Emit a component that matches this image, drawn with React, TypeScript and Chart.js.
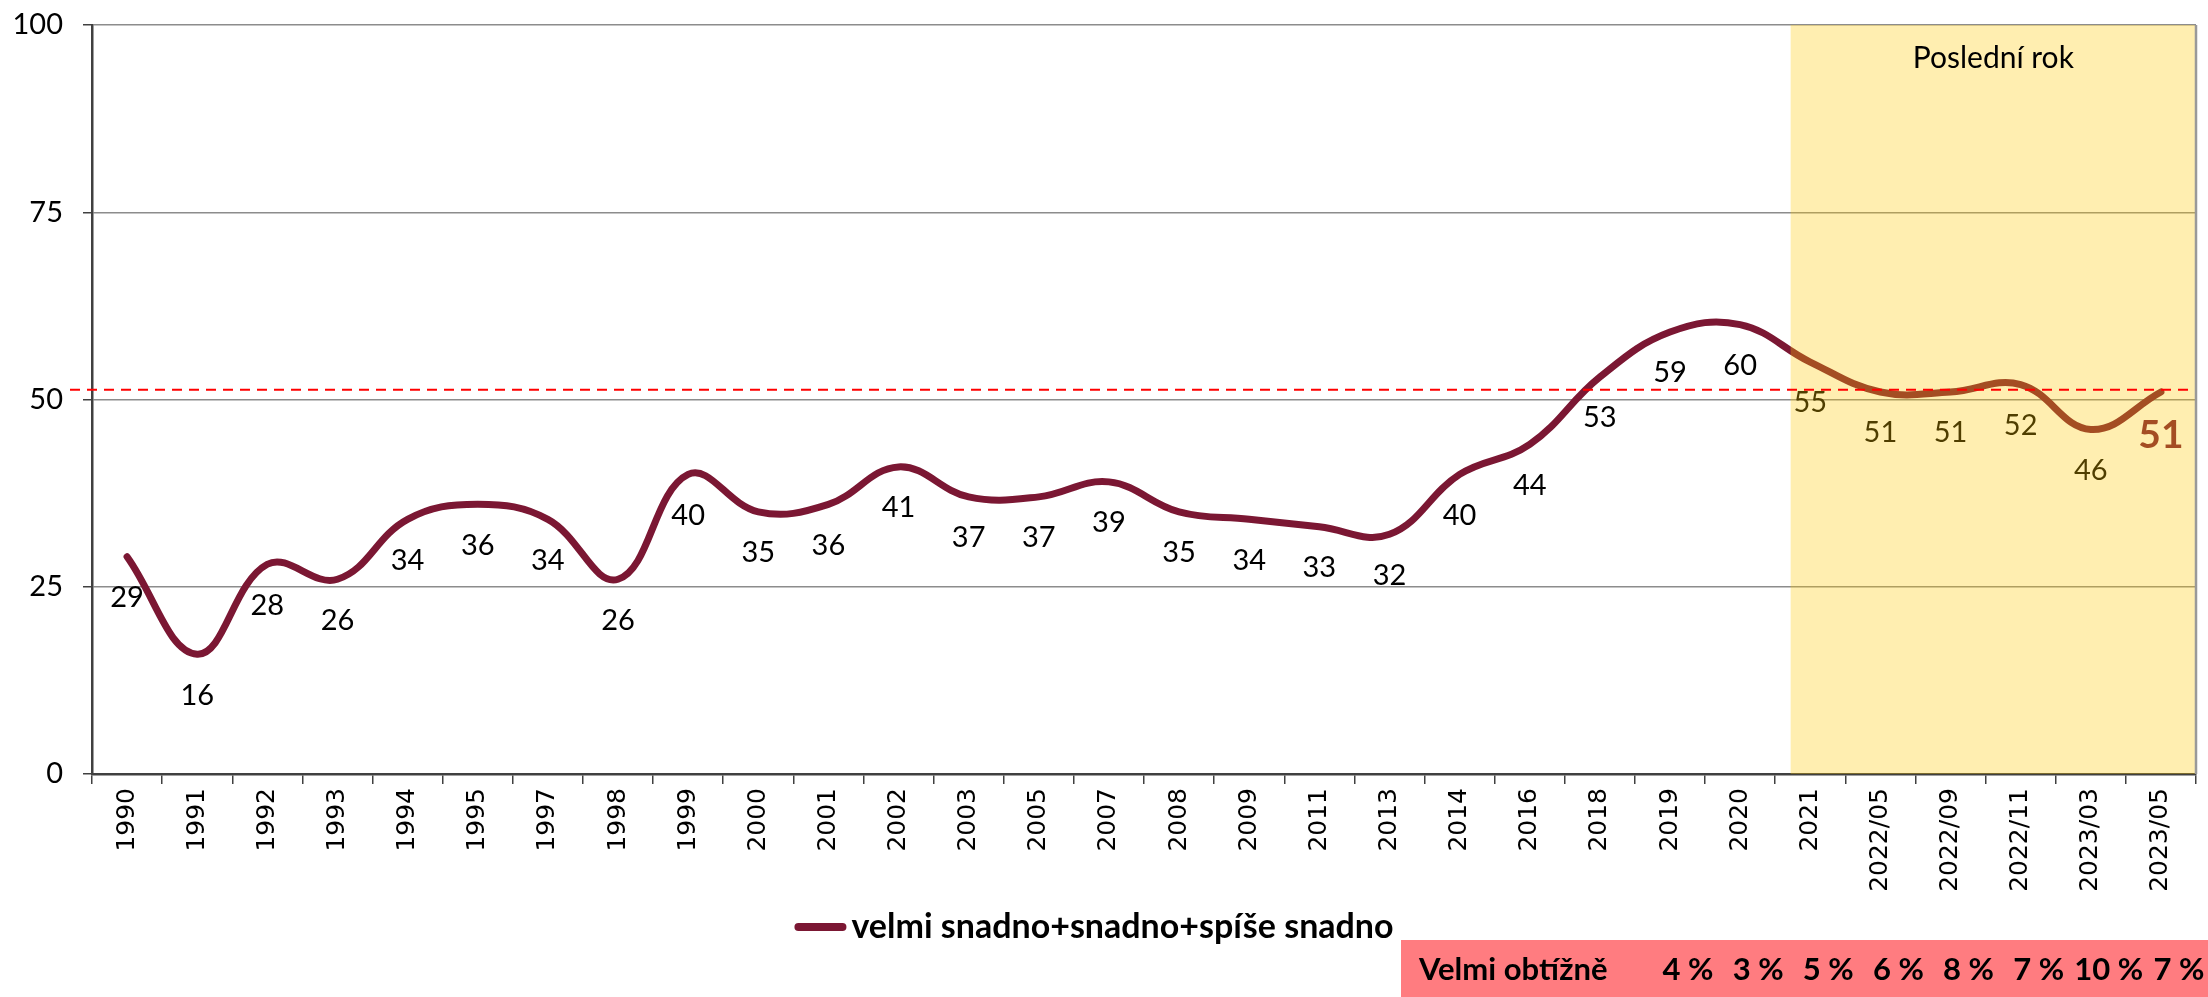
import React, { useEffect, useRef } from 'react';
import { Chart, registerables } from 'chart.js';

Chart.register(...registerables);

// ---- data ----
const categories = [
  '1990', '1991', '1992', '1993', '1994', '1995', '1997', '1998', '1999', '2000',
  '2001', '2002', '2003', '2005', '2007', '2008', '2009', '2011', '2013', '2014',
  '2016', '2018', '2019', '2020', '2021', '2022/05', '2022/09', '2022/11', '2023/03', '2023/05',
];
const easyValues = [
  29, 16, 28, 26, 34, 36, 34, 26, 40, 35,
  36, 41, 37, 37, 39, 35, 34, 33, 32, 40,
  44, 53, 59, 60, 55, 51, 51, 52, 46, 51,
];
const yTicks = [0, 25, 50, 75, 100];
const seriesLabel = 'velmi snadno+snadno+spíše snadno';
const referenceLevel = 51.3;
const lastYearStartCategory = '2021';
const lastYearLabel = 'Poslední rok';
const veryHardLabel = 'Velmi obtížně';
const veryHardCategories = ['2019', '2020', '2021', '2022/05', '2022/09', '2022/11', '2023/03', '2023/05'];
const veryHardValues = [4, 3, 5, 6, 8, 7, 10, 7];

// ---- styles ----
const LINE_COLOR = '#7B1733';
const LABEL_FONT = 'Lato';
const AXIS_DARK = '#404040';

const decorPlugin = {
  id: 'decor',
  afterDatasetsDraw(chart: any) {
    const { ctx, chartArea: ca, scales } = chart;
    const x = scales.x;
    const y = scales.y;
    const meta = chart.getDatasetMeta(0);
    ctx.save();
    // value labels
    meta.data.forEach((pt: any, i: number) => {
      const last = i === meta.data.length - 1;
      ctx.font = last ? `bold 39px ${LABEL_FONT}` : `29px ${LABEL_FONT}`;
      ctx.fillStyle = last ? LINE_COLOR : '#000';
      ctx.textAlign = 'center';
      ctx.textBaseline = 'middle';
      ctx.fillText(String(easyValues[i]), pt.x, pt.y + (last ? 43 : 41));
    });
    // "last year" shaded overlay
    const idx = categories.indexOf(lastYearStartCategory);
    const step = x.getPixelForValue(1) - x.getPixelForValue(0);
    const x0 = x.getPixelForValue(idx) - 0.28 * step;
    ctx.fillStyle = 'rgba(255,200,0,0.31)';
    ctx.fillRect(x0, ca.top, ca.right - x0, ca.bottom - ca.top);
    // dashed reference line
    const yr = y.getPixelForValue(referenceLevel);
    ctx.strokeStyle = '#FF0000';
    ctx.lineWidth = 2;
    ctx.setLineDash([10, 7]);
    ctx.beginPath();
    ctx.moveTo(ca.left - 22, yr);
    ctx.lineTo(ca.right, yr);
    ctx.stroke();
    ctx.setLineDash([]);
    // title of shaded area
    ctx.fillStyle = '#000';
    ctx.font = `30px ${LABEL_FONT}`;
    ctx.textAlign = 'center';
    ctx.textBaseline = 'middle';
    ctx.fillText(lastYearLabel, (x0 + ca.right) / 2, ca.top + 33);
    // right border
    ctx.strokeStyle = '#999999';
    ctx.lineWidth = 2.5;
    ctx.beginPath();
    ctx.moveTo(ca.right, ca.top);
    ctx.lineTo(ca.right, ca.bottom);
    ctx.stroke();
    ctx.restore();
  },
  afterDraw(chart: any) {
    const { ctx, width, scales } = chart;
    const x = scales.x;
    ctx.save();
    // legend
    ctx.font = `bold 34px ${LABEL_FONT}`;
    const tw = ctx.measureText(seriesLabel).width;
    const sample = 52;
    const gap = 5;
    const total = sample + gap + tw;
    const lx = width / 2 - 10 - total / 2;
    const ly = 927;
    ctx.strokeStyle = LINE_COLOR;
    ctx.lineWidth = 8;
    ctx.lineCap = 'round';
    ctx.beginPath();
    ctx.moveTo(lx + 4, ly);
    ctx.lineTo(lx + sample - 4, ly);
    ctx.stroke();
    ctx.fillStyle = '#000';
    ctx.textAlign = 'left';
    ctx.textBaseline = 'middle';
    ctx.fillText(seriesLabel, lx + sample + gap, ly);
    // "very hard" box
    ctx.fillStyle = '#FF7C80';
    ctx.fillRect(1401, 940, width - 1401, 57);
    ctx.fillStyle = '#000';
    ctx.font = `bold 31px ${LABEL_FONT}`;
    ctx.textAlign = 'left';
    ctx.fillText(veryHardLabel, 1419, 970);
    ctx.textAlign = 'center';
    veryHardCategories.forEach((c, i) => {
      const px = x.getPixelForValue(categories.indexOf(c)) + 18;
      ctx.fillText(`${veryHardValues[i]} %`, px, 970);
    });
    ctx.restore();
  },
};

export default function App() {
  const ref = useRef<HTMLCanvasElement | null>(null);
  useEffect(() => {
    document.body.style.margin = '0';
    const canvas = ref.current;
    if (!canvas) return;
    const chart = new Chart(canvas, {
      type: 'line',
      data: {
        labels: categories,
        datasets: [
          {
            label: seriesLabel,
            data: easyValues,
            borderColor: LINE_COLOR,
            backgroundColor: LINE_COLOR,
            borderWidth: 7,
            borderCapStyle: 'round',
            borderJoinStyle: 'round',
            pointRadius: 0,
            tension: 0.4,
            fill: false,
          },
        ],
      },
      options: {
        animation: false,
        responsive: false,
        devicePixelRatio: 1,
        events: [],
        layout: { padding: { left: 0, top: 25, right: 12, bottom: 0 } },
        plugins: {
          legend: { display: false },
          tooltip: { enabled: false },
          title: { display: false },
        },
        scales: {
          x: {
            type: 'category',
            offset: true,
            grid: {
              display: true,
              drawOnChartArea: false,
              offset: true,
              tickLength: 10,
              color: AXIS_DARK,
              lineWidth: 1.5,
            },
            border: { display: true, color: AXIS_DARK, width: 2.5 },
            ticks: {
              autoSkip: false,
              minRotation: 90,
              maxRotation: 90,
              padding: 4,
              color: '#000',
              font: { family: 'DejaVu Sans', size: 25 },
            },
            afterFit: (s: any) => {
              s.height = 223;
              s.paddingLeft = 0;
              s.paddingRight = 0;
            },
          },
          y: {
            min: 0,
            max: 100,
            afterBuildTicks: (s: any) => {
              s.ticks = yTicks.map((v) => ({ value: v }));
            },
            grid: {
              color: '#8C8C8C',
              lineWidth: 1.5,
              tickLength: 9,
              tickColor: AXIS_DARK,
            },
            border: { display: true, color: AXIS_DARK, width: 2.5 },
            ticks: {
              padding: 20,
              color: '#000',
              font: { family: LABEL_FONT, size: 29 },
            },
            afterFit: (s: any) => {
              s.width = 92;
              s.paddingTop = 0;
              s.paddingBottom = 0;
            },
          },
        },
      },
      plugins: [decorPlugin],
    } as any);
    return () => chart.destroy();
  }, []);
  return (
    <div style={{ position: 'absolute', left: 0, top: 0, width: 2208, height: 997, background: '#fff' }}>
      <canvas ref={ref} width={2208} height={997} style={{ display: 'block' }} />
    </div>
  );
}
